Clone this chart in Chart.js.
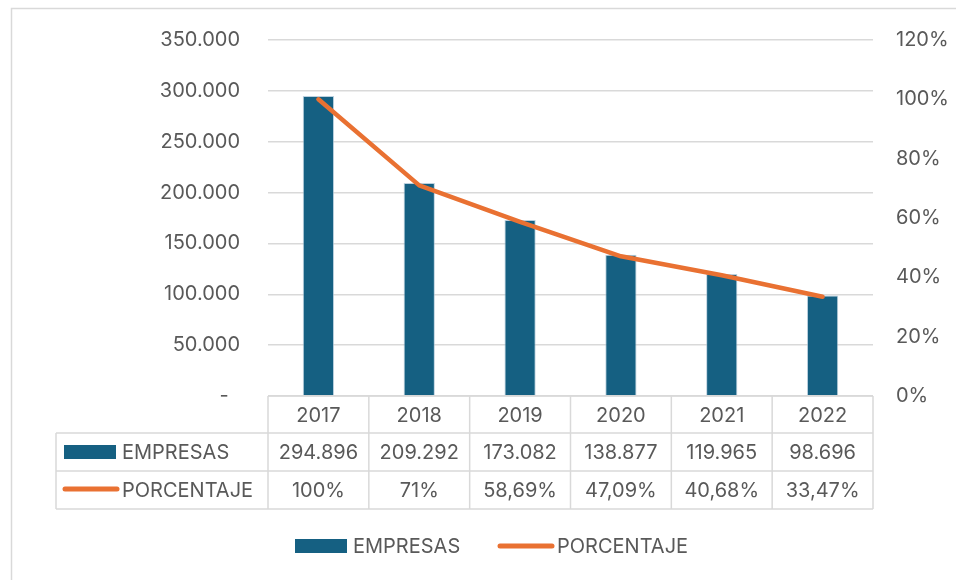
<!DOCTYPE html>
<html>
<head>
<meta charset="utf-8">
<script src="https://cdn.jsdelivr.net/npm/chart.js@4/dist/chart.umd.min.js"></script>
<style>
  html, body { margin: 0; padding: 0; background: #fff; }
  canvas { display: block; }
</style>
</head>
<body>
<canvas id="chart" width="956" height="580"></canvas>
<script>
// datos del gráfico
const YEARS = ['2017', '2018', '2019', '2020', '2021', '2022'];
const EMPRESAS = [294896, 209292, 173082, 138877, 119965, 98696];
const PORCENTAJE = [1, 0.71, 0.5869, 0.4709, 0.4068, 0.3347];
const SERIES_NAMES = ['EMPRESAS', 'PORCENTAJE'];

const BLUE = '#156082';
const ORANGE = '#E97132';
const GRID = '#D9D9D9';
const TEXT = '#595959';
const FONT_FAMILY = 'Inter, "Liberation Sans", sans-serif';
const FONT_SIZE = 20;

// 294896 -> "294.896"
function fmtMiles(v) {
    return String(v).replace(/\B(?=(\d{3})+(?!\d))/g, '.');
}
// 0.5869 -> "58,69%", 0.71 -> "71%"
function fmtPct(v) {
    let s = (v * 100).toFixed(2).replace(/\.?0+$/, '');
    return s.replace('.', ',') + '%';
}

// tabla de datos + leyenda, como en Excel
const dataTablePlugin = {
    id: 'dataTable',
    beforeDraw(chart) {
        const ctx = chart.ctx;
        ctx.save();
        ctx.strokeStyle = GRID;
        ctx.lineWidth = 1.5;
        ctx.strokeRect(11.5, 8.5, 960, 600);
        ctx.restore();
    },
    afterDraw(chart) {
        const ctx = chart.ctx;
        const x = chart.scales.x;
        const area = chart.chartArea;
        const half = (x.getPixelForValue(1) - x.getPixelForValue(0)) / 2;
        const rows = [area.bottom, area.bottom + 37, area.bottom + 75, area.bottom + 113];
        const keyLeft = 56;

        ctx.save();
        ctx.strokeStyle = GRID;
        ctx.lineWidth = 1.5;
        // líneas horizontales
        ctx.beginPath();
        ctx.moveTo(area.left, rows[0]); ctx.lineTo(area.right, rows[0]);
        for (let i = 1; i < rows.length; i++) {
            ctx.moveTo(keyLeft, rows[i]); ctx.lineTo(area.right, rows[i]);
        }
        // líneas verticales
        for (let i = 0; i <= YEARS.length; i++) {
            const px = i < YEARS.length ? x.getPixelForValue(i) - half : area.right;
            ctx.moveTo(px, rows[0]); ctx.lineTo(px, rows[3]);
        }
        ctx.moveTo(keyLeft, rows[1]); ctx.lineTo(keyLeft, rows[3]);
        ctx.stroke();

        ctx.fillStyle = TEXT;
        ctx.font = FONT_SIZE + 'px ' + FONT_FAMILY;
        ctx.textAlign = 'center';
        ctx.textBaseline = 'middle';
        YEARS.forEach((y, i) => {
            const px = x.getPixelForValue(i);
            ctx.fillText(y, px, (rows[0] + rows[1]) / 2 + 1);
            ctx.fillText(fmtMiles(EMPRESAS[i]), px, (rows[1] + rows[2]) / 2 + 1);
            ctx.fillText(fmtPct(PORCENTAJE[i]), px, (rows[2] + rows[3]) / 2 + 1);
        });

        // claves de la tabla
        ctx.textAlign = 'left';
        ctx.fillStyle = BLUE;
        ctx.fillRect(64, 445, 52, 14);
        ctx.strokeStyle = ORANGE;
        ctx.lineWidth = 5;
        ctx.lineCap = 'round';
        ctx.beginPath();
        ctx.moveTo(65, 489); ctx.lineTo(117, 489);
        ctx.stroke();
        ctx.fillStyle = TEXT;
        ctx.fillText(SERIES_NAMES[0], 122, (rows[1] + rows[2]) / 2 + 1);
        ctx.fillText(SERIES_NAMES[1], 122, (rows[2] + rows[3]) / 2 + 1);

        // leyenda inferior
        ctx.fillStyle = BLUE;
        ctx.fillRect(295, 539, 52, 14);
        ctx.beginPath();
        ctx.moveTo(500, 546); ctx.lineTo(552, 546);
        ctx.stroke();
        ctx.fillStyle = TEXT;
        ctx.fillText(SERIES_NAMES[0], 353, 547);
        ctx.fillText(SERIES_NAMES[1], 557, 547);
        ctx.restore();
    }
};

new Chart(document.getElementById('chart'), {
    data: {
        labels: YEARS,
        datasets: [
            {
                type: 'line',
                label: SERIES_NAMES[1],
                data: PORCENTAJE,
                yAxisID: 'y1',
                borderColor: ORANGE,
                borderWidth: 4.5,
                borderCapStyle: 'round',
                borderJoinStyle: 'round',
                pointRadius: 0,
                tension: 0,
                order: 1
            },
            {
                type: 'bar',
                label: SERIES_NAMES[0],
                data: EMPRESAS,
                yAxisID: 'y',
                backgroundColor: BLUE,
                borderColor: 'rgba(160,190,210,0.7)',
                borderWidth: 1,
                barPercentage: 0.31,
                categoryPercentage: 1,
                order: 2
            }
        ]
    },
    options: {
        responsive: false,
        animation: false,
        layout: { padding: { top: 35, left: 0, right: 0, bottom: 0 } },
        plugins: {
            legend: { display: false },
            tooltip: { enabled: false }
        },
        scales: {
            x: {
                grid: { display: false },
                border: { display: false },
                ticks: { display: false },
                afterFit: s => { s.height = 184; }
            },
            y: {
                position: 'left',
                min: 0,
                max: 350000,
                grid: { color: GRID, lineWidth: 1.5, drawTicks: false },
                border: { display: false },
                ticks: {
                    stepSize: 50000,
                    padding: 28,
                    color: TEXT,
                    font: { family: FONT_FAMILY, size: FONT_SIZE },
                    callback: v => v === 0 ? '-  ' : fmtMiles(v)
                },
                afterFit: s => { s.width = 268; }
            },
            y1: {
                position: 'right',
                min: 0,
                max: 1.2,
                grid: { display: false, drawTicks: false },
                border: { display: false },
                ticks: {
                    stepSize: 0.2,
                    padding: 23,
                    color: TEXT,
                    font: { family: FONT_FAMILY, size: FONT_SIZE },
                    callback: v => Math.round(v * 100) + '%'
                },
                afterFit: s => { s.width = 83; }
            }
        }
    },
    plugins: [dataTablePlugin]
});
</script>
</body>
</html>
